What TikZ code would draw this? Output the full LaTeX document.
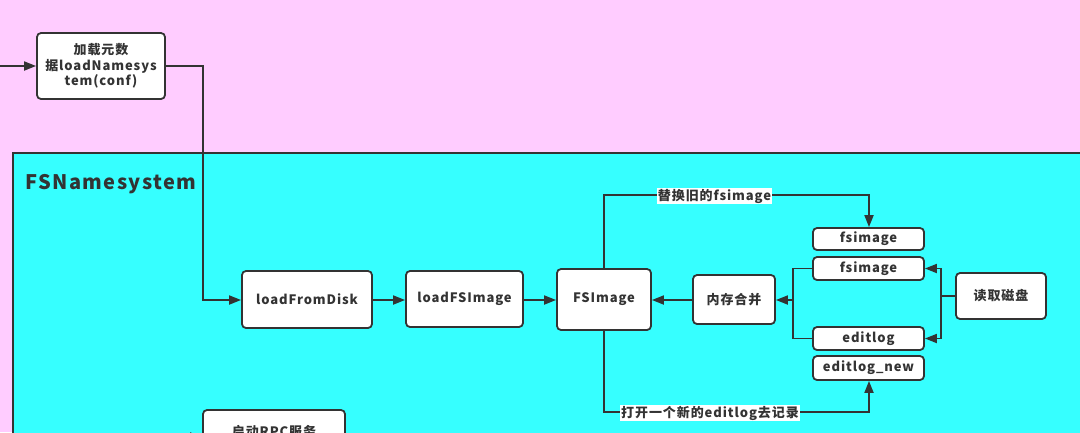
\documentclass[tikz,border=0pt]{standalone}
\usepackage{fontspec}
\setmainfont{Noto Sans CJK SC}[LetterSpace=7]
\usetikzlibrary{arrows.meta,calc}
\definecolor{bgpink}{RGB}{255,204,255}
\definecolor{bgcyan}{RGB}{54,255,255}
\definecolor{ink}{RGB}{51,51,51}
\begin{document}
\begin{tikzpicture}[x=1pt,y=-1pt,
  box/.style={draw=ink,line width=1.8pt,fill=white,rounded corners=4pt,
    inner sep=0pt,text=ink,font=\fontsize{13}{15.5}\selectfont\bfseries,align=center},
  conn/.style={draw=ink,line width=1.8pt},
  arr/.style={conn,-{Triangle[length=12pt,width=9pt]}},
  lbl/.style={fill=white,inner sep=1pt,text=ink,font=\fontsize{13}{15}\selectfont\bfseries}]
\useasboundingbox (0,0) rectangle (1080,432);
\clip (0,0) rectangle (1080,432);
\fill[bgpink] (0,0) rectangle (1080,432);
\draw[draw=ink,line width=1.8pt,fill=bgcyan] (13,153) rectangle (1100,460);
\node[anchor=west,text=ink,font=\fontsize{20}{24}\selectfont\bfseries] (title) at (22,184) {FSNamesystem};

\node[box,minimum width=128pt,minimum height=66pt] (load) at (101,66) {加载元数\\据loadNamesys\\tem(conf)};
\node[box,minimum width=130pt,minimum height=57pt] (lfd) at (307,299.5) {loadFromDisk};
\node[box,minimum width=117pt,minimum height=56pt] (lfsi) at (464.5,299) {loadFSImage};
\node[box,minimum width=94pt,minimum height=61pt] (fsi) at (604,299.5) {FSImage};
\node[box,minimum width=82pt,minimum height=49pt] (merge) at (734,299.5) {内存合并};
\node[box,minimum width=111pt,minimum height=22pt] (fs1) at (868.5,239) {fsimage};
\node[box,minimum width=111pt,minimum height=23pt] (fs2) at (868.5,268.5) {fsimage};
\node[box,minimum width=111pt,minimum height=23pt] (el) at (868.5,338.5) {editlog};
\node[box,minimum width=111pt,minimum height=24pt] (eln) at (868.5,368) {editlog\_new};
\node[box,minimum width=90pt,minimum height=46pt] (disk) at (1001,296) {读取磁盘};
\node[box,minimum width=142pt,minimum height=44pt] (rpc) at (274,432) {启动RPC服务};

\coordinate (inL) at (0,66);
\coordinate (rpcin) at (160,437);
\draw[arr] (inL) -- (load.west);
\draw[arr] (load.east) -- (203,66) -- (203,300) -- (lfd.west |- 0,300);
\draw[arr] (lfd.east |- 0,300) -- (lfsi.west |- 0,300);
\draw[arr] (lfsi.east |- 0,300) -- (fsi.west |- 0,300);
\draw[arr] (merge.west |- 0,300) -- (fsi.east |- 0,300);
\draw[arr] (rpcin) -- (rpc.west |- rpcin);

% replace old fsimage
\draw[arr] (fsi.north) -- (604,195) -- (869,195) -- (fs1.north -| 869,0);
\node[lbl] (lblr) at (714.5,196) {替换旧的fsimage};
% open new editlog
\draw[arr] (fsi.south) -- (604,412) -- (869,412) -- (eln.south -| 869,0);
\node[lbl] (lblo) at (710,413) {打开一个新的editlog去记录};

% merge bracket
\draw[conn] (fs2.west) -- (793,268.5) -- (793,338.5) -- (el.west);
\draw[arr] (793,300) -- (merge.east |- 0,300);
% disk bracket
\draw[conn] (disk.west) -- (941,296);
\draw[arr] (941,296) -- (941,268.5) -- (fs2.east);
\draw[arr] (941,296) -- (941,338.5) -- (el.east);
\end{tikzpicture}
\end{document}
